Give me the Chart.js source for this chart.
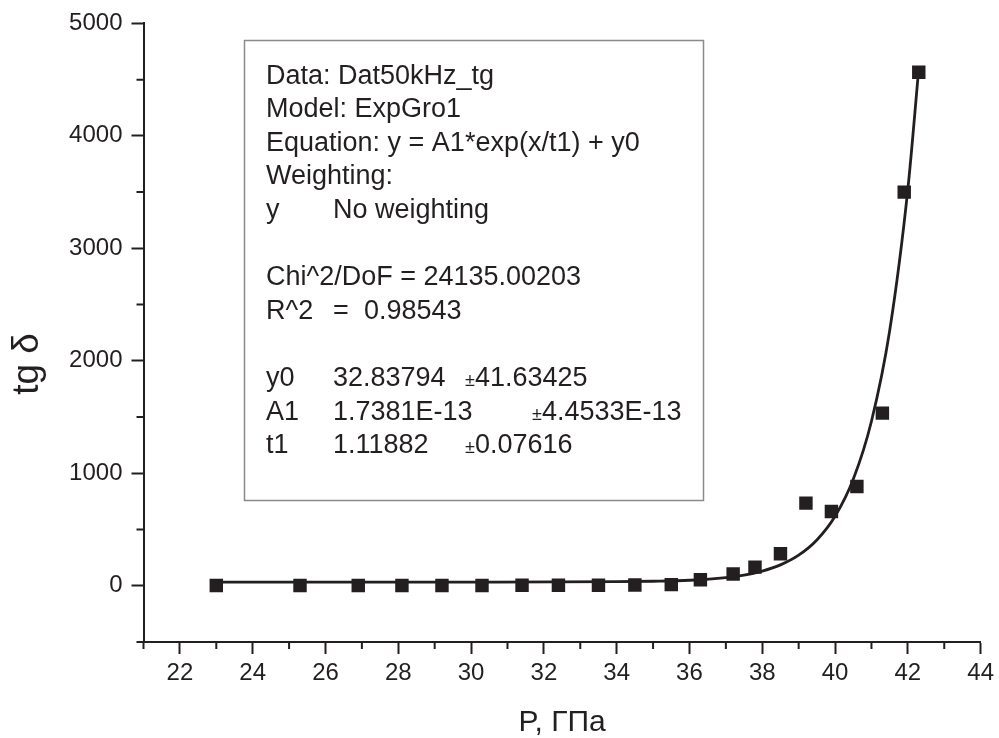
<!DOCTYPE html>
<html>
<head>
<meta charset="utf-8">
<script src="https://cdn.jsdelivr.net/npm/chart.js@4"></script>
<style>
  html, body { margin: 0; padding: 0; background: #fff; }
  #wrap { width: 999px; height: 738px; }
</style>
</head>
<body>
<div id="wrap"><canvas id="fitChart"></canvas></div>
<script>
// measured points
const pressure = [23.0, 25.3, 26.9, 28.1, 29.2, 30.3, 31.4, 32.4, 33.5, 34.5, 35.5,
                  36.3, 37.2, 37.8, 38.5, 39.2, 39.9, 40.6, 41.3, 41.9, 42.3];
const tgDelta  = [2, 2, 2, 3, 3, 3, 4, 4, 5, 6, 10,
                  53, 104, 166, 284, 735, 660, 883, 1535, 3500, 4566];

// fitted curve
const fitP  = [23, 30, 34, 35, 36, 37, 37.5, 38, 38.5, 39, 39.5, 40, 40.5, 41, 41.5, 42, 42.3];
const fitTg = [33, 33, 36, 40, 49, 73, 95, 131, 186, 272, 407, 618, 947, 1463, 2268, 3527, 4600];

const xTicks = [22, 24, 26, 28, 30, 32, 34, 36, 38, 40, 42, 44];
const yTicks = [0, 1000, 2000, 3000, 4000, 5000];

const fitText = [
    [['Data: Dat50kHz_tg', 0]],
    [['Model: ExpGro1', 0]],
    [['Equation: y = A1*exp(x/t1) + y0', 0]],
    [['Weighting:', 0]],
    [['y', 0], ['No weighting', 67]],
    null,
    [['Chi^2/DoF = 24135.00203', 0]],
    [['R^2', 0], ['=', 67], ['0.98543', 98]],
    null,
    [['y0', 0], ['32.83794', 67], ['±', 199, true], ['41.63425', 209]],
    [['A1', 0], ['1.7381E-13', 67], ['±', 266, true], ['4.4533E-13', 276]],
    [['t1', 0], ['1.11882', 67], ['±', 199, true], ['0.07616', 209]]
];

const ink = '#231f20';
const fontFam = '"Liberation Sans", Arial, sans-serif';

const pts = pressure.map((p, i) => ({ x: p, y: tgDelta[i] }));
const curve = fitP.map((p, i) => ({ x: p, y: fitTg[i] }));

// minor ticks, axis titles and the fit info box
const extras = {
    id: 'extras',
    afterDraw(chart) {
        const c = chart.ctx;
        const xs = chart.scales.x, ys = chart.scales.y;
        const area = chart.chartArea;
        c.save();
        c.strokeStyle = ink;
        c.lineWidth = 2;
        c.beginPath();
        for (let v = xs.min; v <= xs.max; v += 2) {
            const px = xs.getPixelForValue(v);
            c.moveTo(px, area.bottom);
            c.lineTo(px, area.bottom + 7);
        }
        for (let v = ys.min; v <= ys.max; v += 1000) {
            const py = ys.getPixelForValue(v);
            c.moveTo(area.left, py);
            c.lineTo(area.left - 7, py);
        }
        c.stroke();

        // axis titles
        c.fillStyle = ink;
        c.font = '30px ' + fontFam;
        c.textAlign = 'center';
        c.textBaseline = 'alphabetic';
        c.fillText('P, ГПа', (area.left + area.right) / 2, 731);
        c.save();
        c.translate(38, 364);
        c.rotate(-Math.PI / 2);
        c.font = '37px ' + fontFam;
        c.fillText('tg δ', 0, 0);
        c.restore();

        // info box
        c.strokeStyle = '#8a8a8a';
        c.lineWidth = 1.5;
        c.strokeRect(244.5, 40.5, 459, 460);
        c.textAlign = 'left';
        fitText.forEach((line, k) => {
            if (!line) return;
            const base = 83.5 + 33.6 * k;
            line.forEach(([txt, dx, small]) => {
                c.font = (small ? '18px ' : '27px ') + fontFam;
                c.fillText(txt, 266 + dx, base);
            });
        });
        c.restore();
    }
};

new Chart(document.getElementById('fitChart'), {
    type: 'scatter',
    data: {
        datasets: [{
                label: 'Dat50kHz_tg',
                data: pts,
                pointStyle: 'rect',
                pointRadius: 9.5,
                pointBorderWidth: 0,
                backgroundColor: ink,
                borderColor: ink,
                order: 0
            },
            {
                label: 'ExpGro1',
                data: curve,
                showLine: true,
                pointRadius: 0,
                borderColor: ink,
                borderWidth: 2.8,
                cubicInterpolationMode: 'monotone',
                order: 1
            }
        ]
    },
    options: {
        responsive: true,
        maintainAspectRatio: false,
        animation: false,
        layout: { padding: { top: 23, right: 17, left: 0, bottom: 0 } },
        plugins: {
            legend: { display: false },
            tooltip: { enabled: false }
        },
        scales: {
            x: {
                type: 'linear',
                min: 21,
                max: 44,
                afterBuildTicks: s => { s.ticks = xTicks.map(v => ({ value: v })); },
                afterFit: s => { s.height = 96; },
                border: { display: true, color: ink, width: 2 },
                grid: { drawOnChartArea: false, drawTicks: true, tickLength: 12, tickWidth: 2, tickColor: ink },
                ticks: { color: ink, padding: 5, font: { size: 24, family: fontFam }, callback: v => String(v) }
            },
            y: {
                type: 'linear',
                min: -500,
                max: 5000,
                afterBuildTicks: s => { s.ticks = yTicks.map(v => ({ value: v })); },
                afterFit: s => { s.width = 143.5; },
                border: { display: true, color: ink, width: 2 },
                grid: { drawOnChartArea: false, drawTicks: true, tickLength: 12, tickWidth: 2, tickColor: ink },
                ticks: { color: ink, padding: 9, font: { size: 24, family: fontFam }, callback: v => String(v) }
            }
        }
    },
    plugins: [extras]
});
</script>
</body>
</html>
